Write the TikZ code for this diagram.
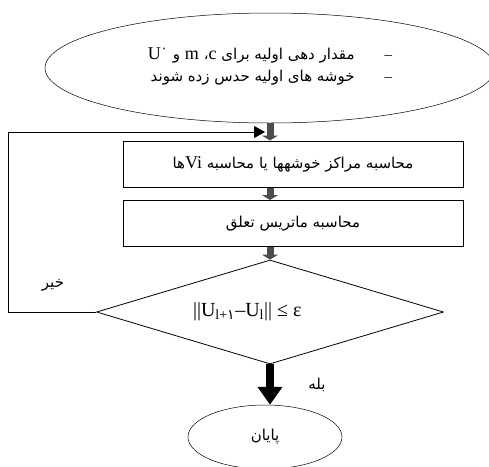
\documentclass[tikz,border=0pt]{standalone}
\usepackage{fontspec}
\setmainfont{Liberation Serif}
\newfontfamily\farsi[Script=Arabic]{DejaVu Sans}
\TeXXeTstate=1
\usetikzlibrary{shapes.geometric}
\usetikzlibrary{arrows.meta}

\newcommand{\fa}[1]{{\farsi\beginR #1\endR}}
\newcommand{\lat}[1]{\beginL{\rmfamily\fontsize{18}{20}\selectfont #1}\endL}

\tikzset{
	oval/.style={draw,ellipse,line width=0.5pt,inner sep=0pt},
	stepbox/.style={draw,line width=1pt,minimum width=340pt,minimum height=46pt,inner sep=0pt},
	test/.style={draw,diamond,line width=0.8pt,minimum width=347pt,minimum height=104pt,inner sep=0pt,aspect=3.3},
	flow/.style={draw=black!70,line width=7pt,-{Triangle[width=16pt,length=5pt]}},
	yes/.style={line width=8pt,-{Triangle[width=24pt,length=18pt]}},
	back/.style={line width=1pt,-{Triangle[width=12pt,length=11pt]}}
}

\begin{document}
\begin{tikzpicture}[x=1pt,y=-1pt,font=\fontsize{15}{23}\selectfont]
		\useasboundingbox (0,0) rectangle (489,466);
		% start
		\node[oval,minimum width=450pt,minimum height=110pt] (start) at (270,68)
			{\raisebox{24pt}{\begin{tabular}{@{}r@{}}
			 \fa{مقدار دهی اولیه برای \lat{c}، \lat{m} و \lat{U\textsuperscript{\farsi ۰}}}\hspace{30pt}–\\[-1pt]
			 \fa{خوشه های اولیه حدس زده شوند}\hspace{30pt}–
			 \end{tabular}}};
		% steps
		\node[stepbox] (box1) at (293,164) {\fa{محاسبه مراکز خوشهها یا محاسبه \lat{Vi}ها}};
		\node[stepbox] (box2) at (293,223.5) {\fa{محاسبه ماتریس تعلق}};
		% test
		\node[test,font=\fontsize{20}{22}\selectfont] (test) at (270,312)
			{\makebox[154pt][l]{||U\textsubscript{l+{\farsi ۱}}--U\textsubscript{l}|| ≤ ε}};
		% end
		\node[oval,minimum width=154pt,minimum height=64pt] (end) at (265,437) {\raisebox{-8pt}{\fa{پایان}}};
		\coordinate (join) at (265,132);

		\draw[flow] (start.south) -- (box1.north -| start.south);
		\draw[flow] (box1.south -| start.south) -- (box2.north -| start.south);
		\draw[flow] (box2.south -| test.north) -- (test.north);
		\draw[yes] (test.south) -- (end.north -| test.south);
		\draw[back] (test.west) -- ++(-88,0) |- (join);

		\node (no) at (53,285) {\fa{خیر}};
		\node (ok) at (317,385) {\fa{بله}};
	\end{tikzpicture}
\end{document}
